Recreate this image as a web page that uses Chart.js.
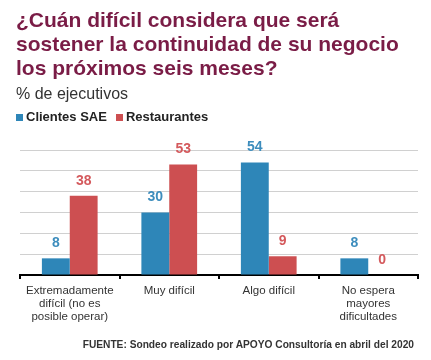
<!DOCTYPE html>
<html>
<head>
<meta charset="utf-8">
<script src="https://cdn.jsdelivr.net/npm/chart.js@4/dist/chart.umd.min.js"></script>
<style>
  html, body { margin: 0; padding: 0; background: #fff; }
  #wrap { position: relative; width: 431px; height: 360px; font-family: "Liberation Sans", Arial, sans-serif; }
  canvas { position: absolute; left: 0; top: 0; }
  #title { position: absolute; left: 16px; top: 8px; font-size: 21px; line-height: 24px; font-weight: bold; color: #7a1c46; white-space: nowrap; }
  #sub { position: absolute; left: 16px; top: 85px; font-size: 16px; line-height: 18px; color: #333; white-space: nowrap; }
  #legend { position: absolute; left: 16px; top: 109px; display: flex; font-size: 13px; line-height: 15px; font-weight: bold; color: #222; white-space: nowrap; }
  .item { display: flex; align-items: center; margin-right: 9px; }
  .sw { width: 7px; height: 7px; margin-right: 3px; margin-top: 1px; }
  #foot { position: absolute; right: 17px; top: 339px; font-size: 10.2px; font-weight: bold; color: #333; white-space: nowrap; }
</style>
</head>
<body>
<div id="wrap">
  <canvas id="c" width="431" height="360"></canvas>
  <div id="title">¿Cuán difícil considera que será<br>sostener la continuidad de su negocio<br>los próximos seis meses?</div>
  <div id="sub">% de ejecutivos</div>
  <div id="legend"></div>
  <div id="foot">FUENTE: Sondeo realizado por APOYO Consultoría en abril del 2020</div>
</div>
<script>
const categories = [
  ["Extremadamente", "difícil (no es", "posible operar)"],
  ["Muy difícil"],
  ["Algo difícil"],
  ["No espera", "mayores", "dificultades"]
];
const seriesNames = ["Clientes SAE", "Restaurantes"];
const clientesSAE = [8, 30, 54, 8];
const restaurantes = [38, 53, 9, 0];
const yTicks = [0, 10, 20, 30, 40, 50, 60];

const barColors = ["#2e86b8", "#cd4f51"];
const labelColors = ["#3d8dbd", "#d4595c"];

// HTML legend built from series names
const legendEl = document.getElementById("legend");
seriesNames.forEach((name, i) => {
  const item = document.createElement("div");
  item.className = "item";
  const sw = document.createElement("span");
  sw.className = "sw";
  sw.style.background = barColors[i];
  const tx = document.createElement("span");
  tx.textContent = name;
  item.appendChild(sw);
  item.appendChild(tx);
  legendEl.appendChild(item);
});

const valueLabels = {
  id: "valueLabels",
  afterDatasetsDraw(chart) {
    const ctx = chart.ctx;
    ctx.save();
    ctx.font = "bold 14px 'Liberation Sans Narrow', 'Liberation Sans', Arial, sans-serif";
    ctx.textAlign = "center";
    ctx.textBaseline = "middle";
    chart.data.datasets.forEach((ds, i) => {
      const meta = chart.getDatasetMeta(i);
      meta.data.forEach((bar, j) => {
        ctx.fillStyle = labelColors[i];
        ctx.fillText(String(ds.data[j]), bar.x, bar.y - 15);
      });
    });
    ctx.restore();
  }
};

new Chart(document.getElementById("c"), {
  type: "bar",
  data: {
    labels: categories,
    datasets: [
      { label: seriesNames[0], data: clientesSAE, backgroundColor: barColors[0] },
      { label: seriesNames[1], data: restaurantes, backgroundColor: barColors[1] }
    ]
  },
  options: {
    responsive: false,
    animation: false,
    layout: { padding: { left: 20, right: 13, bottom: 32, top: 150 } },
    datasets: { bar: { categoryPercentage: 0.56, barPercentage: 1.0 } },
    plugins: {
      title: { display: false },
      legend: { display: false },
      tooltip: { enabled: false }
    },
    scales: {
      x: {
        grid: { display: true, drawOnChartArea: false, drawTicks: true, tickLength: 4, color: "#000", lineWidth: 2, offset: true },
        border: { display: true, color: "#000", width: 2 },
        ticks: {
          color: "#333",
          padding: 5,
          maxRotation: 0,
          autoSkip: false,
          font: { family: "'Liberation Sans', Arial, sans-serif", size: 11.5, lineHeight: 1.13 }
        }
      },
      y: {
        min: yTicks[0],
        max: yTicks[yTicks.length - 1],
        afterBuildTicks(axis) { axis.ticks = yTicks.map(v => ({ value: v })); },
        ticks: { display: false },
        grid: { color: "#d0d0d0", lineWidth: 1, drawTicks: false },
        border: { display: false }
      }
    }
  },
  plugins: [valueLabels]
});
</script>
</body>
</html>
